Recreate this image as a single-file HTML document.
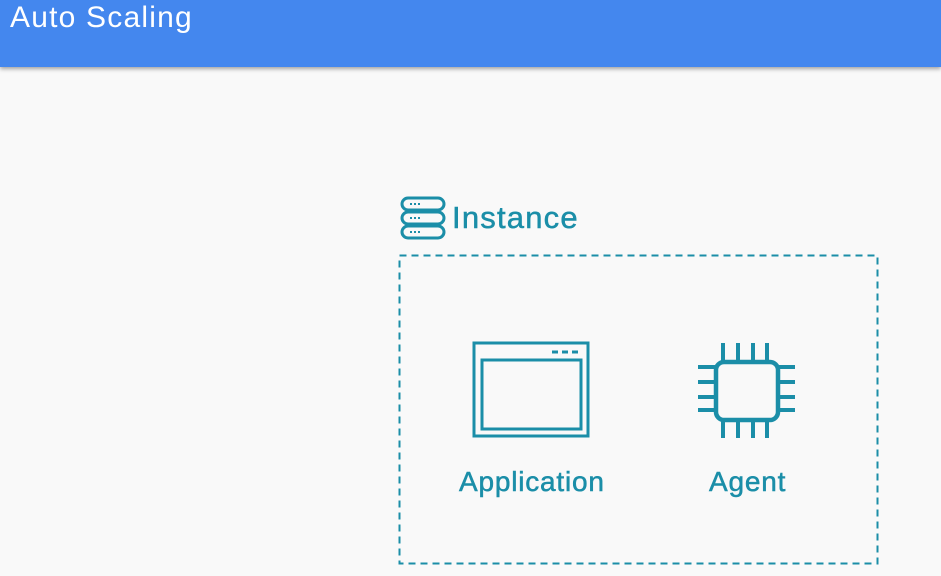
<!DOCTYPE html>
<html><head><style>
body{margin:0;width:941px;height:576px;background:#f9f9f9;overflow:hidden;position:relative;font-family:"Liberation Sans",sans-serif}
.hdr{position:absolute;left:0;top:0;width:941px;height:67px;background:#4487ee;box-shadow:0 2px 4px rgba(0,0,0,.35)}
.hdr span{position:absolute;left:10px;top:1px;color:#fff;font-size:30px;letter-spacing:1.2px}
.t{position:absolute;color:#1b8ea8;font-size:28px;white-space:nowrap;-webkit-text-stroke:0.5px #1b8ea8}
</style></head><body>
<div class="hdr"><span>Auto Scaling</span></div>
<svg width="941" height="576" style="position:absolute;left:0;top:0">
<g fill="none" stroke="#1b8ea8">
<rect x="399.5" y="255.5" width="478" height="308" stroke-width="2" stroke-dasharray="7,5"/>
<g stroke-width="3">
<rect x="402" y="198" width="42" height="12" rx="6"/>
<rect x="402" y="212" width="42" height="12" rx="6"/>
<rect x="402" y="226" width="42" height="12" rx="6"/>
</g>
<g stroke-width="2" stroke-dasharray="2,2">
<line x1="410" y1="204" x2="422" y2="204"/><line x1="410" y1="218" x2="422" y2="218"/><line x1="410" y1="232" x2="422" y2="232"/>
</g>
<rect x="474" y="343" width="114" height="93" stroke-width="3"/>
<rect x="482" y="360" width="99" height="69" stroke-width="3"/>
<line x1="552" y1="352" x2="582" y2="352" stroke-width="3" stroke-dasharray="6,4"/>
<rect x="716" y="362" width="62" height="58" rx="8" stroke-width="4.5"/>
<g stroke-width="4">
<path d="M723 343V362M738 343V362M753 343V362M767 343V362M723 420V438M738 420V438M753 420V438M767 420V438M698 367H716M698 382H716M698 397H716M698 410H716M778 367H795M778 382H795M778 397H795M778 410H795"/>
</g>
</g>
</svg>
<div class="t" style="left:452px;top:200px;font-size:31px;letter-spacing:1.2px">Instance</div>
<div class="t" style="left:459px;top:466px;letter-spacing:0.8px">Application</div>
<div class="t" style="left:709px;top:466px;letter-spacing:0.8px">Agent</div>
</body></html>
